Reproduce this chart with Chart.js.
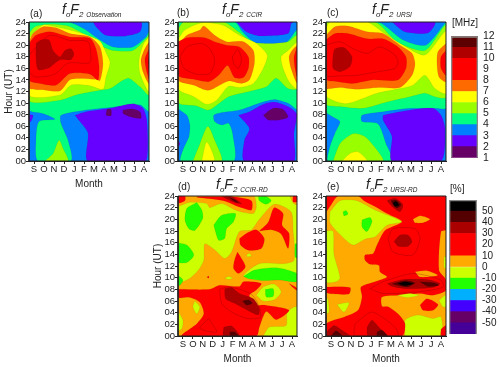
<!DOCTYPE html>
<html><head><meta charset="utf-8">
<script src="https://cdn.jsdelivr.net/npm/chart.js@4"></script>
<style>
html,body{margin:0;padding:0;background:#fff;width:500px;height:367px;overflow:hidden}
body{filter:blur(0.3px)}
canvas{position:absolute}
.t{position:absolute;font-family:"Liberation Sans",Arial,sans-serif;color:#222;white-space:nowrap;line-height:1}
.ti{font-style:italic;font-size:14px}
.ti sub{font-size:8px;vertical-align:baseline;position:relative;top:3px;margin:0}
.ti sub.s{font-size:6.5px;letter-spacing:0;margin-left:3px}
.l{font-size:10px}
</style></head><body>
<script>
// ---------- axis labels ----------
const months=['S','O','N','D','J','F','M','A','M','J','J','A'];
const hourTicks=[0,2,4,6,8,10,12,14,16,18,20,22,24];
const mhzLevels=[1,2,3,4,5,6,7,8,9,10,11,12];
const pctLevels=[-60,-50,-40,-30,-20,-10,0,10,20,30,40,50,60];
const mhzBandColors=['mPurpleDark','mPurple','mBlue','mGreen','mLime','mYellow','mOrange','mRed','mRed','mDark','mDarker'];
const pctBandColors=['pIndigo','pPlum','pViolet','pSky','pGreen','pLime','pOrange','pRed','pRed','pDark','pDarker','pBlack'];
const fullField=[[0,0],[12,0],[12,24],[0,24]];

// ---------- (a) foF2 Observation: contour outlines (month, hour) ----------
const aGreen=[[0,24],[3.9,24],[5.4,22.9],[7.1,20.9],[8.4,19.7],[10.4,19.7],[11.7,21.4],[12,22.3],[12,8.6],[11.1,9.7],[8.1,9.25],[5.7,8.8],[3.2,7.9],[3.2,6.5],[3.9,3.6],[4.2,0],[0.9,0],[0.7,3.6],[1,6.8],[2.6,7.2],[1.4,8.2],[0,8.9]];
const aPurple=[[4.6,7.9],[5.7,8.5],[8.1,9.1],[10.4,9.9],[11.4,9.1],[11.8,6.8],[11.7,0],[5.9,0],[5.9,4.8],[5.1,6.8]];
const aPurpleTop=[[6.4,24],[6.7,23.2],[7.7,21.7],[9.7,21.6],[11.1,22.3],[11.2,24]];
const aPurpleLeft=[[0,8],[0.4,7.9],[0.2,6.8],[0,6.8]];
const aDeep1=[[9.4,8.8],[10.4,9],[11.1,8.5],[11.2,7.4],[10.2,7.6],[9.4,8.2]];
const aDeep2=[[7.7,7.9],[7.8,8.9],[8.2,8.9],[8.2,7.8]];
const aLime=[[0,22],[0.6,23.2],[2.1,23.6],[3.9,23.3],[5.4,22],[7.1,20],[8.4,19.1],[10.4,19.1],[11.7,21.1],[12,21.7],[12,11.4],[11.1,12.8],[9.9,14.3],[8.1,12.5],[7.1,12.2],[4.7,11.4],[3.1,10.5],[0,10.5]];
const aLimeLow=[[1.6,0],[2.4,1.3],[3,3.6],[3.4,2.2],[3.9,0]];
const aYellow=[[0,21.2],[0.7,22.5],[1.4,23.5],[2.1,23.4],[4.1,22.6],[5.7,21.8],[7.1,20.7],[7.7,18.7],[8.1,17],[7.7,14.5],[7.4,12.4],[6.1,13],[4.2,13.1],[3.1,11.4],[0,11.4]];
const aYellowR=[[12,21.5],[11.4,20],[11,17.4],[11.1,15.1],[12,12]];
const aOrange=[[0,20.5],[0.4,22],[1.4,23.2],[2.7,23],[4.1,22],[6.1,21.4],[7.1,19.7],[7.4,16.8],[7.1,13.9],[6.7,14.1],[4.2,14.1],[3.1,12.1],[1.4,12.3],[0,12.7]];
const aOrangeR=[[12,20.6],[11.5,19.1],[11.2,17.4],[11.4,15.4],[12,13.4]];
const aRed=[[0,20.3],[0.7,21.7],[2.1,22.3],[4.1,21.4],[6.1,21.2],[6.7,19.4],[7,16.5],[6.9,14],[6.1,15],[4.1,15.1],[2.7,13.1],[1.1,13.4],[0,14]];
const aRedR=[[12,19.4],[11.6,17.7],[11.7,16],[12,14.2]];
const aLine=[[0.4,19.1],[2.1,21.7],[4.1,20.8],[5.9,20.6],[6.2,17.8],[6,16.9],[3.9,16.9],[2.6,15],[0.7,14.5],[0,15.4],[0,18]];
const aDark=[[0.7,20.3],[1.2,20.9],[2,20.9],[2.4,19.1],[3.1,18],[3.6,19.1],[4.2,19.4],[4.5,18.5],[4.2,17.5],[3.1,17.5],[1.9,16],[0.9,15.8],[0.7,18]];
const aDarkR=[[12,18],[11.9,17.1],[12,15.4]];

// ---------- (b) foF2 CCIR ----------
const bGreen=[[0,24],[5.7,24],[6.5,22.3],[7.6,20.6],[9,20],[11,20.6],[12,22.5],[12,9],[11.2,9.9],[9.7,10.6],[7.9,9.8],[6.2,8.8],[4.2,8.3],[3.6,7.9],[3.7,6.8],[4.4,6.2],[5.1,6.5],[5.5,4.8],[5.6,0],[0.3,0],[0.5,1.9],[1.1,4.2],[1.2,6.2],[0.9,7.9],[0,9.3]];
const bPurple=[[6.1,7.9],[7.2,8.5],[8.6,9.8],[9.7,10.2],[11.1,9.4],[12,8],[11.7,4.8],[11.7,0],[6.7,0],[6.7,3.6],[7.2,5.6]];
const bPurpleTop=[[5.9,24],[6.9,22.3],[8.2,21.6],[11.1,22],[11.4,23.7],[11.6,24]];
const bPurpleLeft=[[0,3.6],[0.2,3],[0,2.4]];
const bDeep=[[8.6,7.9],[9.6,9.1],[10.6,8.9],[11.1,7.6],[10.2,7.1],[9.1,7.1]];
const bLime=[[0,22.8],[0.6,24],[4.6,24],[6.1,22.3],[7.4,20.6],[9.2,20.3],[11.1,20.6],[12,21.7],[12,12.5],[11.1,12.5],[9.9,14.3],[8.9,12.8],[7.2,12],[5.1,11.1],[3.1,8.8],[1.9,9.5],[0,10.2]];
const bLimeLow=[[1.5,0],[2.1,2.5],[3,6],[3.7,3.6],[4.4,0]];
const bYellowLow=[[2.4,0],[2.9,3.3],[3.7,0]];
const bYellow=[[0,21],[0.7,22.6],[1.9,23.6],[2.7,23.9],[4.6,23.4],[6.2,21.7],[7.9,20.3],[9,18.3],[8.6,16],[7.6,13.4],[6.2,12.7],[5.1,12.9],[3.9,10.5],[2.9,9.8],[1.6,11.1],[0,12.5]];
const bYellowR=[[12,20.6],[11.1,19.1],[10.4,18],[10.6,16],[11.2,13.7],[12,12.5]];
const bOrange=[[0,20],[0.9,21.7],[2.2,22.6],[2.6,23.3],[3.7,21.7],[4.9,20.6],[6.6,20.6],[7.6,19.1],[7.7,16.8],[7.2,14],[6.4,13.4],[5.1,13.8],[3.1,12.2],[1.6,13.1],[0,14]];
const bOrangeR=[[12,20],[11.5,19.1],[11.2,18],[11.4,16],[12,13.5]];
const bRed=[[0,20.6],[0.9,21.3],[2.7,21.3],[3.7,20.6],[4.9,20],[6.2,19.7],[7.1,18],[7.1,16],[6.6,14.4],[5.7,14.4],[5,16.5],[4.1,14.8],[3.1,13.7],[1.6,14.1],[0,14.8]];
const bRedR=[[12,19.7],[11.7,18],[11.8,16],[12,14.6]];
const bLine1=[[0.2,18],[0.9,19.7],[2.4,20.3],[3.2,19.4],[3.7,17.4],[3.2,15.1],[1.9,15],[0.6,16]];
const bLine2=[[5.5,18],[6,19.3],[6.4,17.7],[6.1,16],[5.6,16.8]];

// ---------- (c) foF2 URSI ----------
const cGreen=[[0,24],[5.2,24],[7.7,20.9],[10,20],[12,23.9],[12,9.2],[10.9,9.1],[8.4,9.1],[5.7,8.5],[3.6,7.9],[3.6,6.8],[5.2,6.4],[6,3],[6.6,0],[0.2,0],[0.4,2.5],[0.9,4.8],[1.4,6.8],[0.7,7.6],[0,8.6]];
const cPurple=[[5.7,7.9],[8.1,8.7],[10.7,9.1],[11.5,7.9],[11.9,5.6],[11.5,0],[6.6,0],[6.6,4.2],[6.2,5.6],[5.7,7.1]];
const cPurpleTop=[[6.6,24],[7.9,22.3],[10.2,22.1],[10.9,24]];
const cLime=[[0,24],[4.9,24],[7.1,20.6],[9.9,19.1],[12,23.4],[12,11],[10.9,11.1],[9.9,11.7],[8.4,11.1],[6.1,10.2],[3.7,9.1],[1.4,9.4],[0,9.9]];
const cLimeLow=[[0.7,0],[1.4,3],[2.7,4.7],[3.9,4.2],[5.1,1.9],[5.7,0]];
const cYellowLow=[[1.6,0],[2.4,1.3],[3.2,1.6],[4.1,0]];
const cYellow=[[0,22.9],[0.4,24],[4.1,24],[6.1,21.7],[7.7,20],[9.9,18.3],[12,22.3],[12,11.7],[10.9,12.5],[9.9,14.8],[8.7,13.1],[7.4,12.5],[5.1,11.7],[3.7,10.8],[1.9,9.9],[0,11.4]];
const cOrange=[[0,21.7],[0.9,23.2],[2.2,23.3],[4.1,22.3],[5.7,22],[7.4,20],[8.6,18.6],[8.9,16.8],[8.6,14.8],[7.4,12.7],[5.2,12.7],[3.1,12.4],[1.4,12.7],[0,12.7]];
const cOrangeR=[[12,20.3],[11.2,18.9],[11.1,16.8],[11.3,14.5],[12,13.7]];
const cRed=[[0,20.9],[0.9,22],[2.2,22],[4.1,21.1],[5.7,21.1],[7.2,19.7],[8,18],[8,16],[7.2,14],[4.6,14],[2.7,13.4],[1.2,13.7],[0,14.1]];
const cRedR=[[12,19.1],[11.5,18],[11.5,16],[12,14.8]];
const cLine=[[0,20],[1.4,20.6],[2.7,19.4],[4.1,18.6],[5.4,19.7],[6.9,18.3],[7.2,17.1],[6.9,16],[5.1,15.4],[3.1,14.8],[1.4,14.7],[0,14.8]];
const cDark=[[0.7,18.3],[0.9,19.4],[1.8,19.6],[2.6,18],[2.4,16.3],[1.4,15.4],[0.7,16]];

// ---------- (d) foF2 CCIR-RD ----------
const dOrangeTop=[[0,24],[7.6,24],[7.9,22.2],[7.6,21],[5.9,21.5],[4.4,22.7],[3.2,22],[2.9,22.7],[1.1,22.9],[0,22.3]];
const dOrangeCorner=[[11.3,24],[12,24],[12,22.5],[11.6,22.8]];
const dOrange=[[0,8.9],[1.2,9.9],[2.1,11.4],[2.6,13],[2.7,15.8],[3.7,14.8],[4.7,13.3],[5.4,14.4],[6.2,17.9],[7.4,18.2],[8.2,20],[9.7,22.6],[11.4,21.3],[11.6,18.2],[11.7,13],[10.6,12.4],[8.2,12.4],[6.6,10.4],[7.2,9.8],[8.6,9.5],[10.2,9.6],[12,9.3],[12,0],[0,0]];
const dLimeBR=[[8.6,0],[9.2,1.5],[10.9,1.8],[11,4.1],[12,5],[12,0]];
const dLimeIsle=[[1.7,6],[2.2,5],[1.9,3.8],[1.5,5]];
const dLimeLeft=[[0,4.3],[0.5,2.7],[0.4,1.3],[0,0.9]];
const dLimeDot1=[[4.7,9.9],[5.1,10.2],[5.5,9.9],[5.1,9.7]];
const dLimeDot2=[[6.9,13.9],[7.2,14.2],[7.4,13.7],[7,13.6]];
const dLimeMid=[[7.9,7],[8.6,8.4],[9.7,8.9],[10.4,7.6],[9.7,6.2],[8.6,6]];
const dGreen1=[[1.9,22.9],[2.4,21.6],[2.5,20.2],[1.7,18.1],[1.1,18.4],[0.7,19.9],[0.9,21.9]];
const dGreen2=[[3.6,19],[4.4,20.7],[5.8,21],[5.6,19.6],[4.9,18.4],[4.7,16.7],[4.1,16.4]];
const dGreen3=[[0,16],[0.9,15.6],[1.6,13.9],[0.9,12.6],[0,12.7]];
const dGreen4=[[0,10.4],[0.5,9.6],[0.2,8.7],[0,8.7]];
const dGreen5=[[8.1,23.9],[8.9,23.9],[9.4,23.2],[8.9,22.6],[8.2,23.2]];
const dGreen6=[[6.6,10.2],[7.7,11.3],[9.9,11.7],[12,10.7],[12,9.3],[10.2,9.6],[8.6,9.5],[7.2,9.8]];
const dGreen7=[[8.8,8],[9.6,8.1],[9.6,6.8],[8.9,6.7]];
const dGreen8=[[11.8,15.8],[12,15.8],[12,13.4],[11.8,13.6]];
const dRed=[[0,8],[3.2,8],[4.2,8.7],[6.2,8.5],[6.6,9.3],[8.4,9],[7.9,7.9],[7.2,7],[7.7,5.3],[8.7,5.3],[11.2,4.4],[9.9,2.8],[8.9,4.2],[8.2,1.5],[7.9,0],[0.4,0],[1.9,2.1],[2.6,3.8],[2.2,5.8],[1.2,6.6],[0,6.6]];
const dRedTopL=[[0,24],[0.7,24],[0.7,23.2],[0,22.8]];
const dRedTop=[[1.9,23.9],[3.7,23.9],[5.4,23.9],[7.4,23.2],[7.4,21.6],[6.2,22.1],[4.6,23.2],[1.9,23.8]];
const dRedCorner=[[11.6,24],[12,24],[12,23],[11.6,23]];
const dRed1=[[6.2,16.7],[7,17.7],[7.9,18.2],[8.7,16.7],[8.4,15],[7.1,14.7],[6.3,15.6]];
const dRed2=[[6,14.4],[6.8,11.9],[6.1,10.7],[5.6,11.6],[5.7,13]];
const dRed3=[[8.2,18],[9.1,19.5],[9.7,22],[10.6,21],[10.5,19],[11.2,17.6],[11.1,15],[10.4,17.5],[9.4,18.2]];
const dRedDot=[[2.9,10.1],[3.1,10.3],[3.1,9.9]];
const dRedEdge=[[11.2,9],[12,8.2],[12,7.8],[11.6,8.3]];
const dDark1=[[4.7,8.1],[5.4,8.3],[6.2,7.3],[7.6,6.4],[8.2,4.7],[8.1,3.6],[6.9,4.5],[5.7,5.6],[4.8,6.4]];
const dDeep1=[[6.5,6],[7.1,6.2],[7.5,5.6],[6.9,5.3]];
const dDark2=[[4.6,1.5],[5.4,1.7],[6.2,0],[4.6,0]];
const dDeep2=[[5.2,0.7],[5.7,0.7],[6.1,0],[5.3,0]];
const dDarkTop=[[4.4,23.9],[5.4,23.9],[6.4,22.7],[5.7,22.9]];
const dDeepTop=[[5.1,23.8],[5.7,23.4],[6.1,22.8],[5.6,23.2]];
const dLine1=[[4.2,8],[4.4,5.6],[5.5,4],[7,3],[8.3,3.2],[8.2,5],[7.5,7],[6.2,8],[5,8.4]];
const dLine2=[[3.1,3],[2.2,1.3],[3.9,0.7]];

// ---------- (e) foF2 URSI-RD ----------
const eLime=[[0.4,21.3],[1.4,23.2],[3.1,23.2],[4.9,21.6],[7.6,19.6],[6.1,19],[4.9,17],[3.9,16.6],[2.7,15.6],[1.4,17.4],[0.4,19.4]];
const eLimeLeft=[[0,18],[0.7,18],[0.8,14],[1.4,10],[1,9.3],[0,9.3]];
const eGreen1=[[1.7,21.3],[2,21.5],[2.2,20.9],[1.8,20.6]];
const eGreen2=[[3.6,19.9],[4.4,20.3],[4.6,19.6],[4.1,17.9],[3.6,18.7]];
const eRed=[[0,24],[12,24],[12,18.2],[11.5,17.9],[11.3,11.3],[12,9.6],[12,7.8],[10.7,7],[9.4,7.3],[7.4,7],[5.6,6.7],[5.6,5.1],[6.2,5],[7.2,3.8],[7.9,2.1],[7.6,0],[0,0],[0,2.1],[1.9,3.3],[3.2,4.4],[3.6,6.7],[3.5,8.4],[4.9,9.3],[6.1,10.1],[5.4,11],[5.3,12.1],[4.4,12.3],[3.9,13],[3.9,13.9],[4.7,14.1],[5.1,15.6],[5.9,18.1],[7.6,19.6],[6.1,21],[4.9,22.2],[3.8,23.2],[3.2,24],[1.2,24],[0.4,22.2],[0,21.3]];
const eRedLeft=[[0,8.4],[2.4,8.3],[2.3,7.2],[0,7.4]];
const eRedBlob=[[9.4,5.3],[10.1,6.4],[11.2,5.4],[10.7,4.4],[9.7,4.4]];
const eRedCorner=[[11.5,1.2],[12,1.8],[12,0],[11.5,0]];
const eOrange1=[[8.9,11],[10.1,11.2],[11.2,10.4],[9.4,10.1]];
const eOrange2=[[8.7,20],[9.4,20.6],[10.4,20],[9.7,19.4],[8.9,19.4]];
const eLimeBR=[[7.9,0],[7.9,2.7],[9.2,3.6],[10.7,3],[11.5,3.3],[11.5,0]];
const eLime1=[[1.1,5.4],[2.3,5.7],[1.8,4.1]];
const eLime2=[[7.1,7],[8.4,7.3],[9.3,7],[8.1,6.6]];
const eLime3=[[11.3,6.1],[12,7],[12,5],[11.7,5]];
const eLime4=[[0,6.4],[0.2,6.4],[0.3,4.1],[0,3.8]];
const eLime5=[[11.8,13.6],[12,13.6],[12,11.6],[11.8,11.8]];
const eBand=[[6.1,9],[7.7,9.7],[10.1,9.7],[11.4,9],[10.7,8.3],[8.1,8.1],[6.6,8.5]];
const eBandDeep1=[[6.6,8.9],[7.9,9.5],[8.9,9.1],[8.1,8.4]];
const eBandDeep2=[[9.4,9.3],[10.9,9.1],[11.3,8.7],[10.2,8.5]];
const eBandBlack=[[7.2,9],[7.9,9.3],[8.7,9],[7.9,8.6]];
const eTop=[[6.1,23.2],[6.9,23.6],[7.7,22.5],[7.4,21.3],[6.6,22.2]];
const eTopDeep=[[6.5,23.2],[7,23.3],[7.5,22.5],[7.1,21.9],[6.7,22.5]];
const eTopBlack=[[6.7,22.8],[7,23.1],[7.3,22.4],[6.9,22.2]];
const eCenter=[[6.8,16.2],[7.4,17.3],[8.2,17.3],[8.6,16.2],[8.2,15.4],[7.2,15.4]];
const eLow1=[[0,0.6],[0.8,1.8],[1.6,1],[2.4,0],[0,0]];
const eLow1Deep=[[0.5,0],[1,0.9],[1.6,0]];
const eLow2=[[4.1,1.5],[4.6,2.7],[5.4,1.3],[6.2,0],[4.2,0]];
const eLow2Deep=[[5.1,0.7],[5.6,1],[6.1,0],[5.1,0]];
const eLine1=[[6.2,16.7],[6.7,18.4],[8.9,18.4],[9.4,16.7],[8.7,13.9],[6.7,14.4]];
const eLine2=[[4.4,8.1],[5.7,9.3],[8.7,10.7],[11.5,9.6],[11.7,8.4],[9.4,7.6],[5.7,7.3]];
const eLine3=[[2.9,2.1],[4.6,4.1],[6.9,1.5],[7.2,0],[2.9,0]];

// ---------- colours ----------
const palette={mPurpleDark:'#660066',mPurple:'#6600ff',mBlue:'#0080ff',mGreen:'#00ff80',mLime:'#99ff00',mYellow:'#ffff00',mOrange:'#ff6a00',mRed:'#ff0000',mDark:'#b00000',mDarker:'#5c0000',
 pIndigo:'#440099',pPlum:'#660066',pViolet:'#4400ff',pSky:'#00b0ff',pGreen:'#22ff00',pLime:'#ccff00',pOrange:'#ffaa00',pRed:'#ff0000',pDark:'#aa0000',pDarker:'#550000',pBlack:'#000000'};

// painting order: each entry is [outline, colour key]; a null colour is a bare contour line
const panelA=[[fullField,'mBlue'],[aGreen,'mGreen'],[aPurple,'mPurple'],[aPurpleTop,'mPurple'],[aPurpleLeft,'mPurple'],[aDeep1,'mPurpleDark'],[aDeep2,'mPurpleDark'],[aLime,'mLime'],[aLimeLow,'mLime'],[aYellow,'mYellow'],[aYellowR,'mYellow'],[aOrange,'mOrange'],[aOrangeR,'mOrange'],[aRed,'mRed'],[aRedR,'mRed'],[aLine,null],[aDark,'mDark'],[aDarkR,'mDark']];
const panelB=[[fullField,'mBlue'],[bGreen,'mGreen'],[bPurple,'mPurple'],[bPurpleTop,'mPurple'],[bPurpleLeft,'mPurple'],[bDeep,'mPurpleDark'],[bLime,'mLime'],[bLimeLow,'mLime'],[bYellowLow,'mYellow'],[bYellow,'mYellow'],[bYellowR,'mYellow'],[bOrange,'mOrange'],[bOrangeR,'mOrange'],[bRed,'mRed'],[bRedR,'mRed'],[bLine1,null],[bLine2,null]];
const panelC=[[fullField,'mBlue'],[cGreen,'mGreen'],[cPurple,'mPurple'],[cPurpleTop,'mPurple'],[cLime,'mLime'],[cLimeLow,'mLime'],[cYellowLow,'mYellow'],[cYellow,'mYellow'],[cOrange,'mOrange'],[cOrangeR,'mOrange'],[cRed,'mRed'],[cRedR,'mRed'],[cLine,null],[cDark,'mDark']];
const panelD=[[fullField,'pLime'],[dOrangeTop,'pOrange'],[dOrangeCorner,'pOrange'],[dOrange,'pOrange'],[dLimeBR,'pLime'],[dLimeIsle,'pLime'],[dLimeLeft,'pLime'],[dLimeDot1,'pLime'],[dLimeDot2,'pLime'],[dLimeMid,'pLime'],[dGreen1,'pGreen'],[dGreen2,'pGreen'],[dGreen3,'pGreen'],[dGreen4,'pGreen'],[dGreen5,'pGreen'],[dGreen6,'pGreen'],[dGreen7,'pGreen'],[dGreen8,'pGreen'],[dRed,'pRed'],[dRedTopL,'pRed'],[dRedTop,'pRed'],[dRedCorner,'pRed'],[dRed1,'pRed'],[dRed2,'pRed'],[dRed3,'pRed'],[dRedDot,'pRed'],[dRedEdge,'pRed'],[dLine1,null],[dLine2,null],[dDark1,'pDark'],[dDeep1,'pDarker'],[dDark2,'pDark'],[dDeep2,'pDarker'],[dDarkTop,'pDark'],[dDeepTop,'pDarker']];
const panelE=[[fullField,'pOrange'],[eLime,'pLime'],[eLimeLeft,'pLime'],[eGreen1,'pGreen'],[eGreen2,'pGreen'],[eLimeBR,'pLime'],[eLime1,'pLime'],[eLime4,'pLime'],[eRed,'pRed'],[eRedLeft,'pRed'],[eRedBlob,'pRed'],[eRedCorner,'pRed'],[eOrange1,'pOrange'],[eOrange2,'pOrange'],[eLime2,'pLime'],[eLime3,'pLime'],[eLime5,'pLime'],[eLine1,null],[eLine2,null],[eLine3,null],[eBand,'pDark'],[eBandDeep1,'pDarker'],[eBandDeep2,'pDarker'],[eBandBlack,'pBlack'],[eTop,'pDark'],[eTopDeep,'pDarker'],[eTopBlack,'pBlack'],[eCenter,'pDark'],[eLow1,'pDark'],[eLow1Deep,'pDarker'],[eLow2,'pDark'],[eLow2Deep,'pDarker']];

// ---------- layout (outside the data) ----------
const FONT='"Liberation Sans", Arial, sans-serif', INK='#222';
const LEFT=29, BOTTOM=30, TOP=8, RIGHT=6;
function makeCanvas(x,y,w,h){const c=document.createElement('canvas');c.width=w;c.height=h;c.style.left=x+'px';c.style.top=y+'px';c.style.width=w+'px';c.style.height=h+'px';document.body.appendChild(c);return c;}
const pts=a=>a.map(([x,y])=>({x,y}));
const closed=a=>pts(a.concat([a[0]]));

function panel(rows,px,py,pw,ph,yTitle,xTitle){
  const c=makeCanvas(px-LEFT,py-TOP,LEFT+pw+RIGHT,TOP+ph+BOTTOM);
  const datasets=rows.map(([outline,key],i)=>({
    data:closed(outline),showLine:true,pointRadius:0,tension:outline===fullField?0:0.25,order:-i,
    fill:key?'shape':false,backgroundColor:key?palette[key]:'transparent',
    borderColor:key?'rgba(60,0,0,0.14)':'rgba(90,0,0,0.5)',borderWidth:0.5,clip:0
  }));
  datasets.push({data:closed(fullField),showLine:true,pointRadius:0,tension:0,order:-999,fill:false,borderColor:'#222',borderWidth:1,clip:false});
  new Chart(c,{type:'scatter',data:{datasets},options:{
    responsive:false,animation:false,events:[],
    layout:{padding:{top:TOP,right:RIGHT,left:0,bottom:0}},
    plugins:{legend:{display:false},tooltip:{enabled:false},title:{display:false}},
    scales:{
      x:{type:'linear',min:0,max:12,
        afterBuildTicks:s=>{s.ticks=months.map((m,i)=>({value:i+0.5}));},
        afterFit:s=>{s.height=BOTTOM;},
        grid:{drawOnChartArea:false,tickLength:3,color:'#222'},border:{display:true,color:'#222'},
        ticks:{autoSkip:false,maxRotation:0,padding:0,color:INK,font:{family:FONT,size:9.5},callback:v=>months[Math.floor(v)]},
        title:{display:xTitle,text:'Month',color:INK,font:{family:FONT,size:10},padding:{top:0,bottom:1}}},
      y:{type:'linear',min:0,max:24,
        afterBuildTicks:s=>{s.ticks=hourTicks.map(v=>({value:v}));},
        afterFit:s=>{s.width=LEFT;},
        grid:{drawOnChartArea:false,tickLength:3,color:'#222'},border:{display:true,color:'#222'},
        ticks:{autoSkip:false,padding:0,color:INK,font:{family:FONT,size:9.5},callback:v=>String(v).padStart(2,'0')},
        title:{display:yTitle,text:'Hour (UT)',color:INK,font:{family:FONT,size:10},padding:{top:3,bottom:0}}}
    }}});
}

function colorBar(levels,bands,shown,px,py,pw,ph,fs){
  const c=makeCanvas(px,py-8,pw+26,ph+16);
  const datasets=bands.map((key,i)=>({data:[[levels[i],levels[i+1]]],backgroundColor:palette[key],borderWidth:0,barPercentage:1,categoryPercentage:1}));
  datasets.push({data:[[levels[0],levels[levels.length-1]]],backgroundColor:'transparent',borderColor:'#888',borderWidth:1,barPercentage:1,categoryPercentage:1,order:-1});
  new Chart(c,{type:'bar',data:{labels:[''],datasets},options:{
    responsive:false,animation:false,events:[],
    layout:{padding:{top:8,bottom:8,left:0,right:0}},
    plugins:{legend:{display:false},tooltip:{enabled:false}},
    scales:{
      x:{stacked:true,display:false,offset:true},
      y:{position:'right',min:levels[0],max:levels[levels.length-1],
        afterBuildTicks:s=>{s.ticks=levels.map(v=>({value:v}));},
        afterFit:s=>{s.width=26;},
        grid:{drawOnChartArea:false,drawTicks:false},border:{display:false},
        ticks:{autoSkip:false,padding:5,color:INK,font:{family:FONT,size:fs},callback:v=>shown.includes(v)?String(v):''}}
    }}});
}

function label(html,cls,x,y){const d=document.createElement('div');d.className='t '+cls;d.innerHTML=html;d.style.left=x+'px';d.style.top=y+'px';document.body.appendChild(d);}
function title(tag,x,y){label('<i>f</i><sub>o</sub><i>F</i><sub>2</sub><sub class="s">'+tag+'</sub>','ti',x,y);}

panel(panelA,29,22,120,139,true,true);
panel(panelB,178,22,119,139,false,false);
panel(panelC,326,22,120,139,false,false);
panel(panelD,178,196,119,140,true,true);
panel(panelE,326,196,120,140,false,true);
colorBar(mhzLevels,mhzBandColors,mhzLevels,451,33,27,128,10.5);
colorBar(pctLevels,pctBandColors,pctLevels.slice(1,-1),449,197,28,140,10);

label('(a)','l',30,9);label('(b)','l',177,8);label('(c)','l',327,8);label('(d)','l',178,182);label('(e)','l',327,182);
title('Observation',62,2);title('CCIR',222,2);title('URSI',372,2);title('CCIR-RD',216,177);title('URSI-RD',366,177);
label('[MHz]','l',452,18);label('[%]','l',450,184);
</script>
</body></html>
